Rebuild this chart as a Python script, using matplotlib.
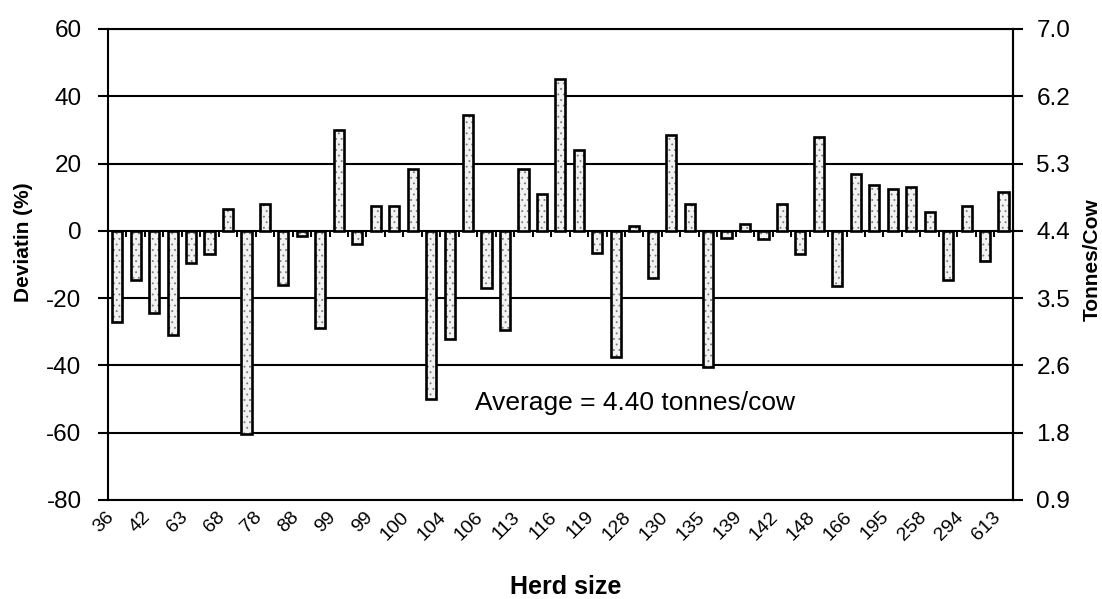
import matplotlib
matplotlib.use("Agg")
import matplotlib.pyplot as plt
import numpy as np
from matplotlib.ticker import FormatStrFormatter
from matplotlib.transforms import ScaledTranslation

AVERAGE = 4.40  # tonnes/cow, the zero line of the deviation axis

# deviation from the average yield per herd (%), herds ordered by size
deviation = [
    -27, -14.5, -24.5, -31, -9.5, -7, 6.5, -60.5, 8, -16,
    -1.5, -29, 30, -4, 7.5, 7.5, 18.5, -50, -32, 34.5,
    -17, -29.5, 18.5, 11, 45, 24, -6.5, -37.5, 1.5, -14,
    28.5, 8, -40.5, -2, 2, -2.5, 8, -7, 28, -16.5,
    17, 13.5, 12.5, 13, 5.5, -14.5, 7.5, -9, 11.5,
]
# herd sizes shown on every second bar
herd_size_labels = [
    "36", "42", "63", "68", "78", "88", "99", "99", "100", "104",
    "106", "113", "116", "119", "128", "130", "135", "139", "142", "148",
    "166", "195", "258", "294", "613",
]
dev_ticks = [-80, -60, -40, -20, 0, 20, 40, 60]

plt.rcParams["font.family"] = ["Liberation Sans", "DejaVu Sans"]
plt.rcParams["axes.unicode_minus"] = False
plt.rcParams["hatch.linewidth"] = 0.6


def to_tonnes(d):
    return AVERAGE * (1 + np.asarray(d) / 100)


def to_dev(t):
    return (np.asarray(t) / AVERAGE - 1) * 100


fig = plt.figure(figsize=(11.02, 5.99), dpi=100)
ax = fig.add_axes([0.098, 0.1653, 0.821, 0.7863])

x = np.arange(len(deviation))
# stippled fill first, then the black outline on top
ax.bar(x, deviation, width=0.55, color="#f2f2f2", edgecolor="#7a7a7a",
       hatch="...", linewidth=0, zorder=3)
ax.bar(x, deviation, width=0.55, fill=False, edgecolor="black",
       linewidth=1.9, zorder=4)

# category tick marks sitting on the zero line
bounds = x[:-1] + 0.5
ax.plot(bounds, np.zeros_like(bounds, dtype=float), ls="none", marker=3,
        ms=4.5, mew=1.4, color="black", zorder=5)

ax.set_xlim(-0.5, len(deviation) - 0.5)
ax.set_ylim(-80, 60)
ax.set_yticks(dev_ticks)
ax.yaxis.grid(True, color="black", linewidth=1.5, zorder=1)
ax.set_axisbelow(True)
for sp in ax.spines.values():
    sp.set_linewidth(1.5)
    sp.set_color("black")

ax.set_xticks(x[::2])
ax.set_xticklabels(herd_size_labels, rotation=45, ha="right")
shift = ScaledTranslation(2 / 72, 0, fig.dpi_scale_trans)
for lbl in ax.get_xticklabels():
    lbl.set_transform(lbl.get_transform() + shift)
ax.tick_params(axis="x", length=0, pad=6, labelsize=14)
ax.tick_params(axis="y", length=7, width=1.5, pad=12, labelsize=17.5)

ax.set_ylabel("Deviatin (%)", fontsize=15, fontweight="bold")
ax.yaxis.set_label_coords(-0.083, 0.548)
ax.set_xlabel("Herd size", fontsize=18, fontweight="bold")
ax.xaxis.set_label_coords(0.506, -0.159)

sec = ax.secondary_yaxis("right", functions=(to_tonnes, to_dev))
sec.set_yticks(to_tonnes(dev_ticks))
sec.yaxis.set_major_formatter(FormatStrFormatter("%.1f"))
sec.tick_params(length=7, width=1.5, pad=10, labelsize=17.5)
sec.spines["right"].set_linewidth(1.5)
fig.text(0.991, 0.566, "Tonnes/Cow", rotation=90, ha="center", va="center",
         fontsize=15, fontweight="bold")

ax.text(0.583, 0.206, f"Average = {AVERAGE:.2f} tonnes/cow",
        transform=ax.transAxes, ha="center", va="center", fontsize=19)

fig.savefig("out.png", dpi=100)
